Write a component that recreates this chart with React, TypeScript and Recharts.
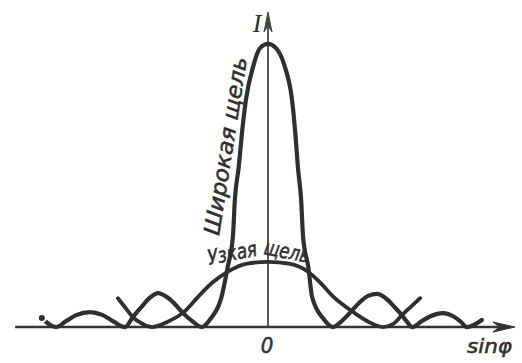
import React from "react";
import { LineChart, Line, XAxis, YAxis, ReferenceLine } from "recharts";

// sinφ positions are in units of the wide slit's first minimum
const wideX = [
  -3.48, -3.26, -3.1, -2.95, -2.74, -2.55, -2.38, -2.2, -2.08, -1.95, -1.82, -1.69, -1.55, -1.42,
  -1.31, -1.16, -1.02, -0.88, -0.72, -0.62, -0.54, -0.51, -0.45, -0.4, -0.34, -0.23, -0.12, 0,
  0.12, 0.26, 0.37, 0.42, 0.46, 0.51, 0.54, 0.62, 0.68, 0.85, 1.0,
  1.13, 1.26, 1.4, 1.54, 1.68, 1.82, 1.95, 2.06, 2.14, 2.22,
  2.36, 2.5, 2.69, 2.85, 2.96, 3.06, 3.29,
];
const wideI = [
  3.2, 0, 2.2, 4.2, 5.3, 4.3, 2.0, 0, 3.5, 7.0, 10.3, 12.0, 10.5, 7.8,
  5.0, 2.0, 0, 3.0, 10.2, 21.2, 31.8, 44.9, 56.5, 68.6, 80.2, 91.9, 98.6, 100,
  98.6, 91.9, 80.2, 68.6, 56.5, 44.9, 31.8, 21.2, 10.5, 3.0, 0,
  2.0, 5.0, 8.5, 11.0, 11.7, 10.0, 7.0, 4.2, 1.8, 0,
  2.0, 3.8, 4.9, 3.8, 2.0, 0, 2.5,
];

const narrowX = [
  -2.31, -2.2, -2.08, -1.92, -1.78, -1.55, -1.31, -1.05, -0.85, -0.63, -0.32, 0,
  0.32, 0.6, 0.8, 1.0, 1.31, 1.55, 1.77, 1.92, 2.06, 2.2, 2.34,
];
const narrowI = [
  10.2, 7.0, 3.5, 1.0, 0, 1.8, 5.0, 11.3, 15.8, 19.4, 22.4, 23.0,
  22.4, 19.8, 15.8, 10.8, 5.3, 1.8, 0, 1.0, 4.2, 7.2, 10.2,
];

const wideData = wideX.map((x, i) => ({ x, I: wideI[i] }));
const narrowData = narrowX.map((x, i) => ({ x, I: narrowI[i] }));

const axisX = [-3.89, 3.8];
const axisTop = 111.3;

const W = 522;
const H = 363;
const ink = "#2f2f2f";
const labelFont = "'DejaVu Sans Condensed', 'DejaVu Sans', sans-serif";

const Arrow = (props: any) => {
  const { x1, y1, x2, y2, stroke, strokeWidth, len = 20, half = 4.5 } = props;
  const a = Math.atan2(y2 - y1, x2 - x1);
  const c = Math.cos(a);
  const s = Math.sin(a);
  const bx = x2 - len * c;
  const by = y2 - len * s;
  const nx = x2 - len * 0.7 * c;
  const ny = y2 - len * 0.7 * s;
  const d = `M${x2},${y2} L${bx - half * s},${by + half * c} L${nx},${ny} L${bx + half * s},${by - half * c} Z`;
  return (
    <g>
      <line x1={x1} y1={y1} x2={nx} y2={ny} stroke={stroke} strokeWidth={strokeWidth} />
      <path d={d} fill={stroke} stroke={stroke} strokeWidth={1} strokeLinejoin="round" />
    </g>
  );
};

const txt = { fontFamily: labelFont, fontStyle: "italic" as const, fill: ink, stroke: ink, strokeWidth: 0.5 };

export default function App() {
  return (
    <div style={{ position: "absolute", left: 0, top: 0, width: W, height: H, background: "#fff" }}>
      <LineChart width={W} height={H} margin={{ top: 0, right: 0, bottom: 0, left: 0 }}>
        <XAxis type="number" dataKey="x" domain={[-4.123, 3.908]} allowDataOverflow hide />
        <YAxis type="number" domain={[-12.7, 115.5]} allowDataOverflow hide />
        <ReferenceLine
          segment={[{ x: axisX[0], y: 0 }, { x: axisX[1], y: 0 }]}
          stroke="#333"
          strokeWidth={2.6}
          ifOverflow="visible"
          shape={(p: any) => <Arrow {...p} len={22} half={5} />}
        />
        <ReferenceLine
          segment={[{ x: 0, y: 0 }, { x: 0, y: axisTop }]}
          stroke="#444"
          strokeWidth={1.8}
          ifOverflow="visible"
          shape={(p: any) => <Arrow {...p} len={20} half={4} />}
        />
        <Line
          data={narrowData}
          dataKey="I"
          type="monotone"
          stroke={ink}
          strokeWidth={3.8}
          dot={false}
          isAnimationActive={false}
          strokeLinecap="round"
        />
        <Line
          data={wideData}
          dataKey="I"
          type="monotone"
          stroke={ink}
          strokeWidth={4.2}
          dot={false}
          isAnimationActive={false}
          strokeLinecap="round"
        />
      </LineChart>
      <svg
        width={W}
        height={H}
        style={{ position: "absolute", left: 0, top: 0, pointerEvents: "none" }}
      >
        <text x={257} y={32} fontFamily="'Liberation Serif', serif" fontStyle="italic" fontSize={26} fill={ink} textAnchor="middle">
          I
        </text>
        <text x={267} y={353} {...txt} fontSize={22} textAnchor="middle">
          0
        </text>
        <text x={467} y={353} {...txt} fontSize={20} textLength={45} lengthAdjust="spacingAndGlyphs">
          sinφ
        </text>
        <text
          transform="translate(219,236) rotate(-81)"
          {...txt}
          fontSize={22}
          textLength={180}
          lengthAdjust="spacingAndGlyphs"
        >
          Широкая щель
        </text>
        <text
          transform="translate(209,265) rotate(-11)"
          {...txt}
          fontSize={21}
          textLength={50}
          lengthAdjust="spacingAndGlyphs"
        >
          Узкая
        </text>
        <text
          transform="translate(263,254) rotate(11)"
          {...txt}
          fontSize={21}
          textLength={46}
          lengthAdjust="spacingAndGlyphs"
        >
          щель
        </text>
      </svg>
    </div>
  );
}
